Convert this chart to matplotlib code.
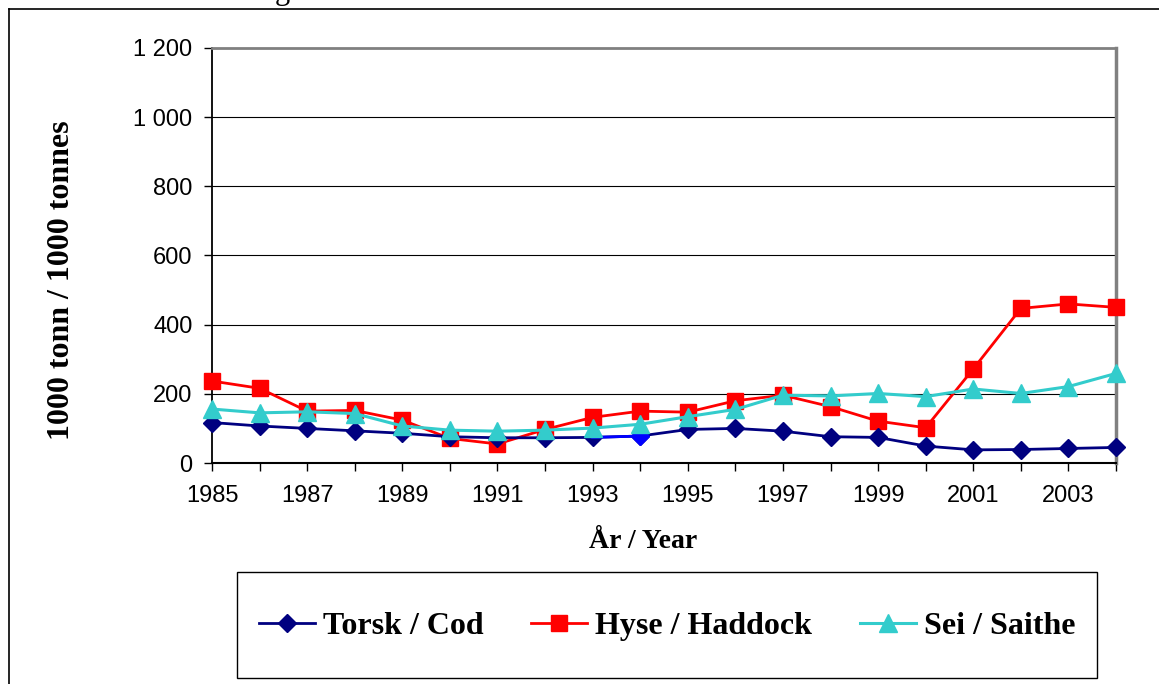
import matplotlib
matplotlib.use("Agg")
import matplotlib.pyplot as plt
from matplotlib.patches import Rectangle
from matplotlib.lines import Line2D
from matplotlib.ticker import FuncFormatter

years = list(range(1985, 2005))
cod = [117, 107, 100, 93, 86, 76, 73, 73, 74, 78, 97, 100, 92, 76, 74, 49, 38, 39, 42, 45]
haddock = [237, 216, 150, 152, 124, 71, 55, 97, 132, 150, 147, 180, 196, 163, 121, 102, 272, 447, 460, 450]
saithe = [156, 145, 148, 143, 107, 95, 92, 95, 101, 112, 134, 155, 196, 194, 201, 192, 214, 201, 221, 259]

labels = ["Torsk / Cod", "Hyse / Haddock", "Sei / Saithe"]
y_ticks = [0, 200, 400, 600, 800, 1000, 1200]
x_ticks = years
x_labels = [str(y) if y % 2 == 1 else "" for y in years]

W, H = 1159, 684
fig = plt.figure(figsize=(W / 100, H / 100), dpi=100)
ax = fig.add_axes([212 / W, 1 - 463 / H, (1116 - 212) / W, (463 - 48) / H])

sans = "Liberation Sans"
serif = "Liberation Serif"

for yv in y_ticks[1:-1]:
    ax.axhline(yv, color="black", lw=0.8, zorder=1)

l1, = ax.plot(years, cod, color="#000080", lw=2, marker="D", ms=9, clip_on=False, zorder=5)
# the odd blue point in 1994
ax.plot(years[8:10], cod[8:10], color="#0000FF", lw=2, marker="D", ms=9, markevery=[1], clip_on=False, zorder=5)
l2, = ax.plot(years, haddock, color="#FF0000", lw=2, marker="s", ms=11.5, clip_on=False, zorder=4)
l3, = ax.plot(years, saithe, color="#33CCCC", lw=2.2, marker="^", ms=12.5, clip_on=False, zorder=6)

ax.set_xlim(1985, 2004)
ax.set_ylim(0, 1200)
ax.set_yticks(y_ticks)
ax.yaxis.set_major_formatter(FuncFormatter(lambda v, p: f"{int(v):,}".replace(",", " ")))
ax.set_xticks(x_ticks)
ax.set_xticklabels(x_labels)

ax.tick_params(axis="y", direction="out", length=6, width=1, pad=8, labelsize=17)
ax.tick_params(axis="x", direction="out", length=6, width=1, pad=10, labelsize=17)
for t in ax.get_xticklabels() + ax.get_yticklabels():
    t.set_fontfamily(sans)

ax.spines["left"].set_color("black")
ax.spines["left"].set_linewidth(1.3)
ax.spines["bottom"].set_color("black")
ax.spines["bottom"].set_linewidth(1.5)
ax.spines["top"].set_color("#808080")
ax.spines["top"].set_linewidth(2)
ax.spines["right"].set_color("#808080")
ax.spines["right"].set_linewidth(2.5)

fig.text(62 / W, 1 - 280 / H, "1000 tonn / 1000 tonnes", rotation=90, ha="center", va="center",
         fontfamily=serif, fontweight="bold", fontsize=23)
fig.text(643 / W, 1 - 541 / H, "År / Year", ha="center", va="center",
         fontfamily=serif, fontweight="bold", fontsize=20)

# cut-off text above the frame
fig.text(275 / W, 1 + 1 / H, "g", ha="left", va="baseline", fontfamily=serif, fontsize=22)

# outer frame
fig.add_artist(Line2D([9 / W, 1.0], [1 - 9 / H, 1 - 9 / H], color="black", lw=1.2, transform=fig.transFigure))
fig.add_artist(Line2D([9 / W, 9 / W], [1 - 9 / H, 0.0], color="black", lw=1.2, transform=fig.transFigure))

# legend box
fig.add_artist(Rectangle((237 / W, 1 - 678 / H), (1097 - 237) / W, (678 - 572) / H,
                         transform=fig.transFigure, fill=False, edgecolor="black", lw=1))
leg = fig.legend([l1, l2, l3], labels, loc="center", ncol=3, frameon=False,
                 bbox_to_anchor=(667 / W, 1 - 626 / H),
                 prop={"family": serif, "weight": "bold", "size": 23},
                 handlelength=1.75, handletextpad=0.25, columnspacing=1.5)

fig.savefig("out.png", dpi=100)
